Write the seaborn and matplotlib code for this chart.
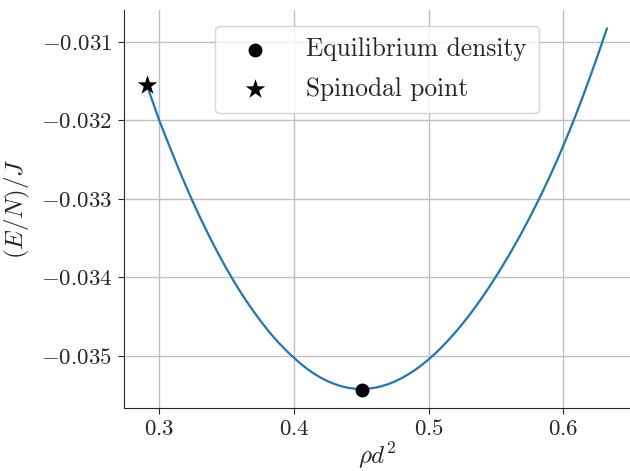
import matplotlib
matplotlib.use("Agg")
import matplotlib.pyplot as plt
import seaborn as sns
import pandas as pd

# Energy per particle curve
rho = [0.2909, 0.295, 0.300, 0.305, 0.310, 0.315, 0.320, 0.325, 0.330, 0.335,
       0.340, 0.345, 0.350, 0.355, 0.360, 0.365, 0.370, 0.375, 0.380, 0.385,
       0.390, 0.395, 0.400, 0.405, 0.410, 0.415, 0.420, 0.425, 0.430, 0.435,
       0.440, 0.445, 0.450, 0.455, 0.460, 0.465, 0.470, 0.475, 0.480, 0.485,
       0.490, 0.495, 0.500, 0.505, 0.510, 0.515, 0.520, 0.525, 0.530, 0.535,
       0.540, 0.545, 0.550, 0.555, 0.560, 0.565, 0.570, 0.575, 0.580, 0.585,
       0.590, 0.595, 0.600, 0.605, 0.610, 0.615, 0.620, 0.625, 0.630, 0.6325]
energy = [-0.031555, -0.031756, -0.032000, -0.032218, -0.032433, -0.032643,
          -0.032844, -0.033039, -0.033224, -0.033402, -0.033572, -0.033735,
          -0.033890, -0.034037, -0.034177, -0.034307, -0.034431, -0.034548,
          -0.034658, -0.034761, -0.034855, -0.034942, -0.035022, -0.035098,
          -0.035166, -0.035225, -0.035277, -0.035320, -0.035356, -0.035384,
          -0.035404, -0.035416, -0.035420, -0.035416, -0.035404, -0.035385,
          -0.035358, -0.035324, -0.035282, -0.035233, -0.035177, -0.035114,
          -0.035044, -0.034967, -0.034884, -0.034793, -0.034697, -0.034594,
          -0.034486, -0.034370, -0.034250, -0.034122, -0.033990, -0.033851,
          -0.033708, -0.033558, -0.033404, -0.033240, -0.033071, -0.032896,
          -0.032715, -0.032525, -0.032326, -0.032119, -0.031903, -0.031677,
          -0.031443, -0.031203, -0.030955, -0.030830]

eq_rho = [0.4507]
eq_energy = [-0.035427]
sp_rho = [0.2909]
sp_energy = [-0.031555]

legend_labels = ["Equilibrium density", "Spinodal point"]
xlabel = r"$\rho d^2$"
ylabel = r"$(E/N)/J$"

sns.set_style("ticks")
plt.rcParams.update({
    "font.family": "serif",
    "font.serif": ["cmr10"],
    "mathtext.fontset": "cm",
    "axes.formatter.use_mathtext": True,
    "axes.unicode_minus": True,
    "axes.edgecolor": "#262626",
    "grid.color": "#c0c0c0",
    "grid.linewidth": 1.0,
})

df = pd.DataFrame({"rho": rho, "E": energy})
df_eq = pd.DataFrame({"rho": eq_rho, "E": eq_energy})
df_sp = pd.DataFrame({"rho": sp_rho, "E": sp_energy})

fig, ax = plt.subplots(figsize=(6.3, 4.71), dpi=100)
fig.subplots_adjust(left=0.1968, right=1.0, bottom=0.1346, top=0.978)
ax.grid(True, zorder=0)
sns.lineplot(data=df, x="rho", y="E", ax=ax, color="#1f77b4", linewidth=1.6,
             sort=True, zorder=2)
sns.scatterplot(data=df_eq, x="rho", y="E", ax=ax, color="black", s=100,
                marker="o", edgecolor="black", linewidth=0, zorder=3,
                label=legend_labels[0])
sns.scatterplot(data=df_sp, x="rho", y="E", ax=ax, color="black", s=220,
                marker="*", edgecolor="black", linewidth=0, zorder=3,
                label=legend_labels[1])

ax.set_xticks([0.3, 0.4, 0.5, 0.6])
ax.set_yticks([-0.035, -0.034, -0.033, -0.032, -0.031])
ax.tick_params(labelsize=16.5, length=4, width=0.8, color="#262626", pad=4.5)
ax.set_xlabel(xlabel, fontsize=18, labelpad=1)
ax.set_ylabel(ylabel, fontsize=18, labelpad=6)
ax.legend(loc="upper center", fontsize=18.3, frameon=True, borderpad=0.47,
          labelspacing=0.62, handlelength=2.2, handletextpad=0.9,
          borderaxespad=0.6)
sns.despine(ax=ax)
fig.savefig("out.png", dpi=100)
